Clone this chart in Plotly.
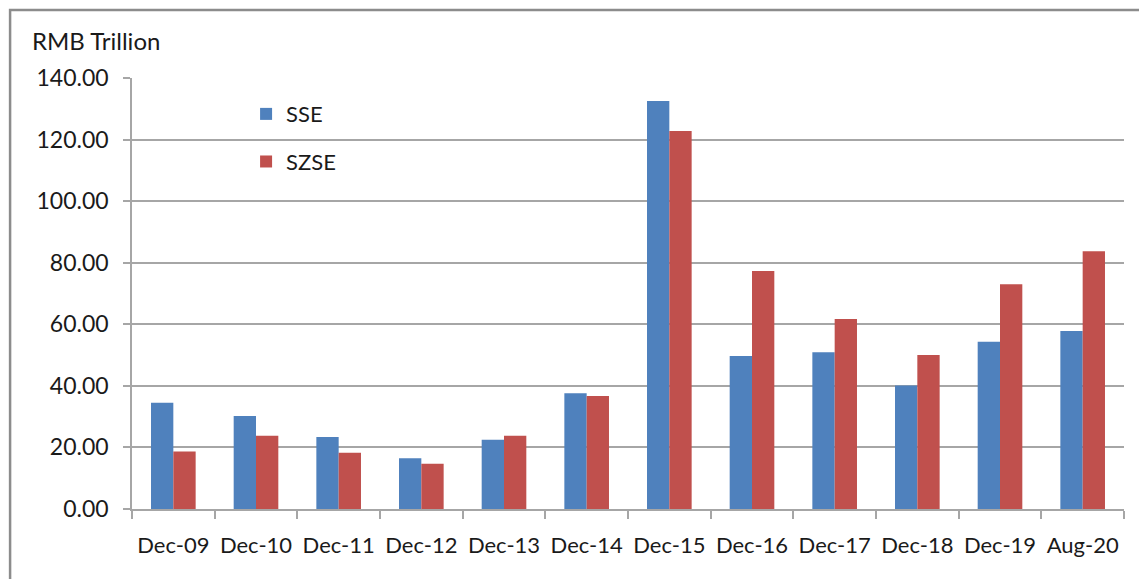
import plotly.graph_objects as go

categories = ["Dec-09", "Dec-10", "Dec-11", "Dec-12", "Dec-13", "Dec-14",
              "Dec-15", "Dec-16", "Dec-17", "Dec-18", "Dec-19", "Aug-20"]
sse = [34.5, 30.2, 23.4, 16.5, 22.5, 37.6, 132.5, 49.7, 50.9, 40.1, 54.3, 57.8]
szse = [18.7, 23.8, 18.3, 14.7, 23.8, 36.7, 122.8, 77.3, 61.7, 50.0, 73.0, 83.7]
y_ticks = [0, 20, 40, 60, 80, 100, 120, 140]

FONT = "Lato"
GRAY = "#A6A6A6"

fig = go.Figure()
fig.add_trace(go.Bar(name="SSE", x=categories, y=sse, marker_color="#4F81BD",
                     marker_line_width=0, legendgroup="a"))
fig.add_trace(go.Bar(name="SZSE", x=categories, y=szse, marker_color="#C0504D",
                     marker_line_width=0, legendgroup="b"))

fig.update_layout(
    width=1147, height=579,
    margin=dict(l=124, r=31, t=70, b=78),
    paper_bgcolor="white", plot_bgcolor="white",
    barmode="group", bargap=0.46, bargroupgap=0,
    font=dict(family=FONT, size=22, color="#1a1a1a"),
    showlegend=True,
    legend=dict(x=0.115, y=0.965, xanchor="left", yanchor="top",
                bgcolor="rgba(0,0,0,0)", font=dict(size=22, family=FONT),
                tracegroupgap=16, itemwidth=30),
    xaxis=dict(showgrid=False, showline=True, linecolor=GRAY, linewidth=1.5,
               ticks="outside", tickson="boundaries", ticklen=8, tickcolor=GRAY,
               tickwidth=1.5, tickfont=dict(size=22, family=FONT),
               ticklabelstandoff=16),
    yaxis=dict(range=[0, 140], tickvals=y_ticks, tickformat=".2f",
               showgrid=True, gridcolor=GRAY, gridwidth=1.5,
               showline=True, linecolor=GRAY, linewidth=1.5,
               ticks="outside", ticklen=7, tickcolor=GRAY, tickwidth=1.5,
               tickfont=dict(size=23, family=FONT), ticklabelstandoff=10,
               zeroline=False),
    annotations=[dict(text="RMB Trillion", x=-0.1027, y=1.088, xref="paper",
                      yref="paper", xanchor="left", yanchor="middle",
                      showarrow=False, font=dict(size=24, family=FONT))],
    shapes=[dict(type="rect", xref="paper", yref="paper",
                 x0=-0.1229, y0=-0.3, x1=1.1, y1=1.1578,
                 line=dict(color="#8C8C8C", width=2.5), layer="below")],
)

fig.write_html("out.html")
